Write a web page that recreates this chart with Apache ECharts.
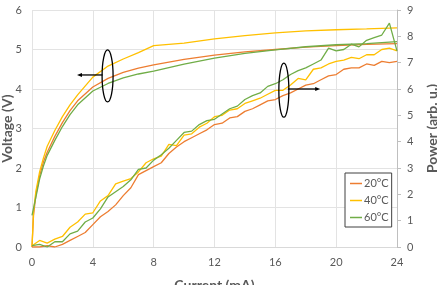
<!DOCTYPE html>
<html>
<head>
<meta charset="utf-8">
<script src="https://cdn.jsdelivr.net/npm/echarts@6/dist/echarts.min.js"></script>
<style>
html,body{margin:0;padding:0;background:#fff;}
#chart{width:437px;height:285px;}
</style>
</head>
<body>
<div id="chart"></div>
<script>
// current (mA) for the voltage curves
var vCurrent = [0, 0.1, 0.25, 0.5, 0.75, 1, 1.5, 2, 2.5, 3, 4, 5, 6, 7, 8, 10, 12, 14, 16, 18, 20, 22, 24];
var v20 = [0, 0.8, 1.3, 1.8, 2.15, 2.4, 2.8, 3.15, 3.45, 3.7, 4.05, 4.27, 4.42, 4.53, 4.61, 4.75, 4.86, 4.94, 5.0, 5.06, 5.1, 5.13, 5.15];
var v40 = [0, 0.9, 1.4, 1.9, 2.25, 2.55, 2.95, 3.3, 3.6, 3.85, 4.3, 4.58, 4.76, 4.92, 5.1, 5.16, 5.27, 5.35, 5.42, 5.47, 5.5, 5.52, 5.55];
var v60 = [0.8, 0.75, 1.25, 1.72, 2.05, 2.32, 2.7, 3.05, 3.35, 3.6, 3.95, 4.14, 4.28, 4.38, 4.45, 4.63, 4.78, 4.9, 4.99, 5.07, 5.12, 5.15, 5.2];

// current (mA) for the power curves
var pCurrent = [0, 0.5, 1, 1.5, 2, 2.5, 3, 3.5, 4, 4.5, 5, 5.5, 6, 6.5, 7, 7.5, 8, 8.5, 9, 9.5, 10, 10.5, 11, 11.5, 12,
  12.5, 13, 13.5, 14, 14.5, 15, 15.5, 16, 16.5, 17, 17.5, 18, 18.5, 19, 19.5, 20, 20.5, 21, 21.5, 22, 22.5, 23, 23.5, 24];
var p20 = [0, 0, 0.05, 0, 0.1, 0.25, 0.4, 0.55, 0.85, 1.15, 1.35, 1.6, 1.95, 2.25, 2.75, 2.9, 3.05, 3.2, 3.55, 3.8, 4.0, 4.15, 4.3, 4.45, 4.65,
  4.7, 4.9, 4.95, 5.15, 5.25, 5.4, 5.55, 5.6, 5.75, 5.85, 6.0, 6.15, 6.2, 6.35, 6.5, 6.55, 6.75, 6.8, 6.8, 6.95, 6.9, 7.05, 7.0, 7.05];
var p40 = [0.05, 0.25, 0.15, 0.3, 0.4, 0.75, 0.95, 1.25, 1.3, 1.75, 1.95, 2.4, 2.5, 2.6, 2.85, 3.2, 3.35, 3.45, 3.9, 3.85, 4.25, 4.3, 4.55, 4.7, 4.95,
  5.0, 5.2, 5.25, 5.45, 5.55, 5.65, 5.8, 5.95, 5.95, 6.15, 6.4, 6.35, 6.75, 6.8, 6.95, 7.05, 7.1, 7.2, 7.15, 7.3, 7.3, 7.5, 7.55, 7.45];
var p60 = [0.05, 0.1, 0, 0.2, 0.2, 0.5, 0.6, 0.95, 1.1, 1.45, 1.9, 2.1, 2.3, 2.55, 2.95, 3.0, 3.3, 3.5, 3.75, 4.05, 4.35, 4.4, 4.65, 4.8, 4.85,
  5.05, 5.25, 5.35, 5.6, 5.75, 5.85, 6.1, 6.2, 6.35, 6.55, 6.7, 6.8, 6.95, 7.1, 7.55, 7.45, 7.5, 7.7, 7.6, 7.85, 7.95, 8.05, 8.5, 7.45];

var names = ['20°C', '40°C', '60°C'];
var colors = ['#ED7D31', '#FFC000', '#70AD47'];

function pairs(xs, ys) {
  return xs.map(function (x, i) { return [x, ys[i]]; });
}

var chart = echarts.init(document.getElementById('chart'));
var txt = '#595959';
var font = 'Lato';
var series = [];
[v20, v40, v60].forEach(function (d, i) {
  series.push({ name: names[i], type: 'line', yAxisIndex: 0, data: pairs(vCurrent, d), symbol: 'none',
    lineStyle: { width: 1.3, color: colors[i] }, itemStyle: { color: colors[i] } });
});
[p20, p40, p60].forEach(function (d, i) {
  series.push({ name: names[i], type: 'line', yAxisIndex: 1, data: pairs(pCurrent, d), symbol: 'none',
    lineStyle: { width: 1.3, color: colors[i] }, itemStyle: { color: colors[i] } });
});

chart.setOption({
  animation: false,
  grid: { left: 32, right: 40, top: 10, bottom: 38, containLabel: false, outerBoundsMode: 'none' },
  legend: {
    data: names, orient: 'vertical', left: 345, top: 173,
    padding: [5, 3, 4, 5], itemGap: 6, itemWidth: 12, itemHeight: 1.5, icon: 'rect',
    borderColor: '#404040', borderWidth: 1, backgroundColor: '#fff',
    textStyle: { color: txt, fontSize: 11, fontFamily: font, padding: [0, 0, 0, -3] }
  },
  xAxis: {
    type: 'value', min: 0, max: 24, interval: 4,
    name: 'Current (mA)', nameLocation: 'middle', nameGap: 31, nameMoveOverlap: false,
    nameTextStyle: { color: txt, fontSize: 14, fontWeight: 'bold', fontFamily: font },
    axisLine: { show: true, lineStyle: { color: '#d9d9d9' } },
    axisTick: { show: false },
    axisLabel: { color: txt, fontSize: 11, margin: 10, fontFamily: font },
    splitLine: { show: true, lineStyle: { color: '#e3e3e3' } }
  },
  yAxis: [{
    type: 'value', min: 0, max: 6, interval: 1,
    name: 'Voltage (V)', nameLocation: 'middle', nameGap: 18, nameMoveOverlap: false,
    nameTextStyle: { color: txt, fontSize: 14, fontWeight: 'bold', fontFamily: font },
    axisLine: { show: false }, axisTick: { show: false },
    axisLabel: { color: txt, fontSize: 11, margin: 10, fontFamily: font },
    splitLine: { show: true, lineStyle: { color: '#e3e3e3' } }
  }, {
    type: 'value', min: 0, max: 9, interval: 1, position: 'right',
    name: 'Power (arb. u.)', nameLocation: 'middle', nameGap: 28, nameRotate: 90, nameMoveOverlap: false,
    nameTextStyle: { color: txt, fontSize: 14, fontWeight: 'bold', fontFamily: font },
    axisLine: { show: true, lineStyle: { color: '#bfbfbf' } },
    axisTick: { show: true, length: 4, lineStyle: { color: '#bfbfbf' } },
    axisLabel: { color: txt, fontSize: 11, margin: 10, fontFamily: font },
    splitLine: { show: false }
  }],
  series: series
});

// annotation ellipses + arrows, placed in data coordinates
function px(x, y) { return chart.convertToPixel({ gridIndex: 0 }, [x, y]); }
var lc = px(4.97, 4.33), rc = px(16.56, 3.97);
var la = px(2.96, 4.33), ra = px(18.95, 4.0);
var stroke = { fill: null, stroke: '#000', lineWidth: 1.3 };
chart.setOption({
  graphic: [
    { type: 'ellipse', shape: { cx: lc[0], cy: lc[1], rx: 5.5, ry: 26 }, style: stroke, z: 100 },
    { type: 'line', shape: { x1: lc[0] - 5, y1: lc[1] - 1, x2: la[0] + 3, y2: lc[1] - 1 }, style: { stroke: '#000', lineWidth: 1.3 }, z: 100 },
    { type: 'polygon', shape: { points: [[la[0], lc[1] - 1], [la[0] + 5, lc[1] - 3], [la[0] + 5, lc[1] + 1]] }, style: { fill: '#000' }, z: 100 },
    { type: 'ellipse', shape: { cx: rc[0], cy: rc[1], rx: 5, ry: 27 }, style: stroke, z: 100 },
    { type: 'line', shape: { x1: rc[0] + 4, y1: ra[1], x2: ra[0] - 3, y2: ra[1] }, style: { stroke: '#000', lineWidth: 1.3 }, z: 100 },
    { type: 'polygon', shape: { points: [[ra[0], ra[1]], [ra[0] - 5, ra[1] - 2], [ra[0] - 5, ra[1] + 2]] }, style: { fill: '#000' }, z: 100 }
  ]
});
</script>
</body>
</html>
